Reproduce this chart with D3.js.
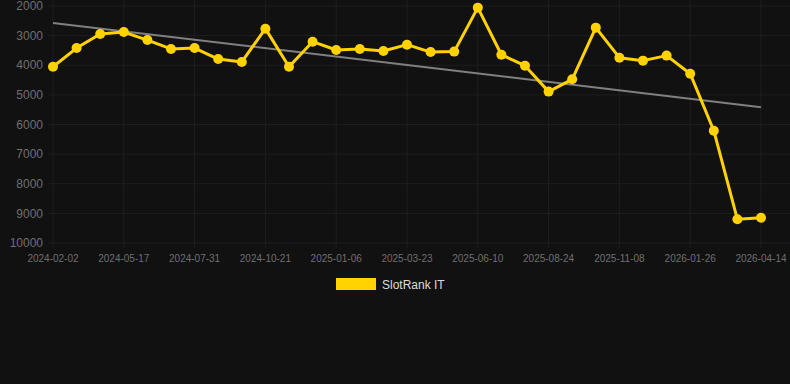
<!DOCTYPE html>
<html>
<head>
<meta charset="utf-8">
<script src="https://cdn.jsdelivr.net/npm/d3@7"></script>
<style>
  body { margin: 0; background: #111111; }
  svg { display: block; font-family: "Liberation Sans", Arial, sans-serif; }
</style>
</head>
<body>
<div id="chart"></div>
<script>
const width = 790, height = 384

// one entry per snapshot, every third date gets a label
const dates = [
    '2024-02-02', '2024-03-08', '2024-04-12', '2024-05-17', '2024-06-11', '2024-07-06',
    '2024-07-31', '2024-08-27', '2024-09-24', '2024-10-21', '2024-11-16', '2024-12-12',
    '2025-01-06', '2025-02-01', '2025-02-26', '2025-03-23', '2025-04-18', '2025-05-15',
    '2025-06-10', '2025-07-05', '2025-07-30', '2025-08-24', '2025-09-19', '2025-10-14',
    '2025-11-08', '2025-12-04', '2025-12-30', '2026-01-26', '2026-02-21', '2026-03-19',
    '2026-04-14'
]
const rank = [
    4050, 3420, 2945, 2880, 3150, 3450, 3420, 3790, 3890, 2765,
    4050, 3205, 3485, 3450, 3520, 3305, 3555, 3540, 2055, 3645,
    4015, 4890, 4475, 2730, 3745, 3845, 3675, 4285, 6210, 9200,
    9145
]
const yTicks = [2000, 3000, 4000, 5000, 6000, 7000, 8000, 9000, 10000]
const seriesName = 'SlotRank IT'

const lineColor = '#FFD200'
const gridColor = '#1e1e1e'
const labelColor = '#6f6f6f'

const svg = d3.select('#chart').append('svg').attr('width', width).attr('height', height)
svg.append('rect').attr('width', width).attr('height', height).attr('fill', '#111111')

const x = d3.scalePoint().domain(dates).range([53, 761])
const y = d3.scaleLinear().domain([2000, 10000]).range([6, 243])

// horizontal grid + y labels
svg.append('g').selectAll('line')
    .data(yTicks)
    .enter()
    .append('line')
    .attr('x1', 48).attr('x2', width)
    .attr('y1', d => y(d)).attr('y2', d => y(d))
    .attr('stroke', gridColor)

svg.append('g').selectAll('text')
    .data(yTicks)
    .enter()
    .append('text')
    .attr('x', 43)
    .attr('y', d => y(d))
    .attr('dy', '.35em')
    .attr('text-anchor', 'end')
    .attr('font-size', 12)
    .attr('fill', labelColor)
    .text(d => d)

// vertical grid at labelled dates
const shown = dates.filter((d, i) => i % 3 == 0)
svg.append('g').selectAll('line')
    .data(shown)
    .enter()
    .append('line')
    .attr('x1', d => x(d)).attr('x2', d => x(d))
    .attr('y1', 0).attr('y2', 248)
    .attr('stroke', gridColor)

svg.append('g').selectAll('text')
    .data(shown)
    .enter()
    .append('text')
    .attr('x', d => x(d))
    .attr('y', 262)
    .attr('text-anchor', 'middle')
    .attr('font-size', 10)
    .attr('fill', labelColor)
    .text(d => d)

// least squares trend over the snapshot index
const n = rank.length
const mi = (n - 1) / 2
const mv = d3.mean(rank)
const slope = d3.sum(rank, (v, i) => (i - mi) * (v - mv)) / d3.sum(rank, (v, i) => (i - mi) * (i - mi))
const trend = [0, n - 1].map(i => [dates[i], mv + slope * (i - mi)])

svg.append('path')
    .datum(trend)
    .attr('d', d3.line().x(d => x(d[0])).y(d => y(d[1])))
    .attr('stroke', '#808080')
    .attr('stroke-width', 2)
    .attr('fill', 'none')

const points = dates.map((d, i) => [d, rank[i]])

svg.append('path')
    .datum(points)
    .attr('d', d3.line().x(d => x(d[0])).y(d => y(d[1])))
    .attr('stroke', lineColor)
    .attr('stroke-width', 3)
    .attr('stroke-linejoin', 'round')
    .attr('fill', 'none')

svg.append('g').selectAll('circle')
    .data(points)
    .enter()
    .append('circle')
    .attr('cx', d => x(d[0]))
    .attr('cy', d => y(d[1]))
    .attr('r', 5)
    .attr('fill', lineColor)

// legend
svg.append('rect')
    .attr('x', 336).attr('y', 278)
    .attr('width', 40).attr('height', 12)
    .attr('fill', lineColor)
svg.append('text')
    .attr('x', 382).attr('y', 289)
    .attr('font-size', 12)
    .attr('fill', '#dddddd')
    .text(seriesName)
</script>
</body>
</html>
